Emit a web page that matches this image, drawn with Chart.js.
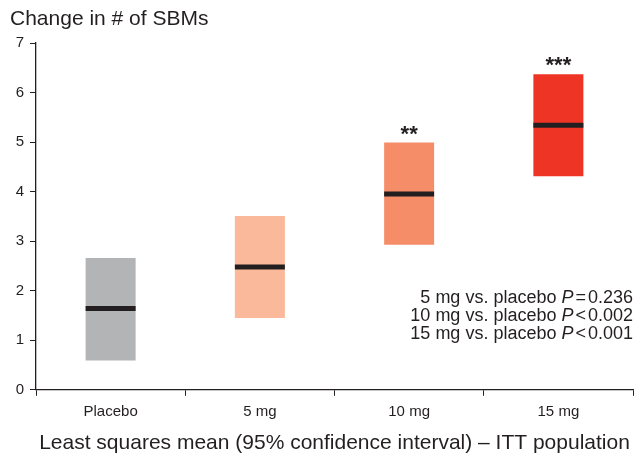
<!DOCTYPE html>
<html>
<head>
<meta charset="utf-8">
<script src="https://cdn.jsdelivr.net/npm/chart.js"></script>
<style>
  body { margin: 0; background: #fff; }
  #wrap { width: 640px; height: 456px; }
</style>
</head>
<body>
<div id="wrap"><canvas id="chart"></canvas></div>
<script>
const groups = ["Placebo", "5 mg", "10 mg", "15 mg"];
const ciLow = [0.59, 1.45, 2.93, 4.31];
const ciHigh = [2.66, 3.51, 4.99, 6.37];
const means = [1.64, 2.48, 3.95, 5.34];
const stars = ["", "", "**", "***"];
const barColors = ["#b3b4b6", "#f9b99a", "#f58d68", "#ee3424"];
const pLabels = ["5 mg vs. placebo ", "10 mg vs. placebo ", "15 mg vs. placebo "];
const pSigns = ["=", "<", "<"];
const pValues = ["0.236", "0.002", "0.001"];

const FONT = "'Liberation Sans', Arial, Helvetica, sans-serif";
const INK = "#231f20";

// title, significance stars and the p-value block
const extras = {
  id: "extras",
  afterDatasetsDraw(chart) {
    const ctx = chart.ctx;
    const area = chart.chartArea;
    ctx.save();
    ctx.fillStyle = INK;

    ctx.font = "21px " + FONT;
    ctx.textAlign = "left";
    ctx.textBaseline = "middle";
    ctx.fillText("Change in # of SBMs", 10, 19);

    const bars = chart.getDatasetMeta(0).data;
    ctx.font = "bold 22px " + FONT;
    ctx.textAlign = "center";
    ctx.textBaseline = "alphabetic";
    bars.forEach((bar, i) => {
      if (stars[i]) ctx.fillText(stars[i], bar.x, bar.y - 2);
    });

    ctx.textAlign = "right";
    ctx.textBaseline = "middle";
    const right = area.right;
    pLabels.forEach((lab, i) => {
      const y = 298 + i * 18;
      let x = right;
      ctx.font = "18px " + FONT;
      ctx.fillText(pValues[i], x, y);
      x -= ctx.measureText(pValues[i]).width + 2;
      ctx.fillText(pSigns[i], x, y);
      x -= ctx.measureText(pSigns[i]).width + 2;
      ctx.font = "italic 18px " + FONT;
      ctx.fillText("P", x, y);
      x -= ctx.measureText("P").width;
      ctx.font = "18px " + FONT;
      ctx.fillText(lab, x, y);
    });
    ctx.restore();
  }
};

new Chart(document.getElementById("chart"), {
  type: "bar",
  data: {
    labels: groups,
    datasets: [
      {
        label: "95% CI",
        data: groups.map((g, i) => [ciLow[i], ciHigh[i]]),
        backgroundColor: barColors,
        borderWidth: 0,
        categoryPercentage: 1,
        barPercentage: 0.335,
        order: 2
      },
      {
        type: "line",
        label: "LS mean",
        data: means,
        showLine: false,
        pointStyle: "line",
        pointRadius: 25,
        pointHoverRadius: 25,
        pointBorderWidth: 5,
        pointBorderColor: INK,
        pointBackgroundColor: INK,
        order: 1
      }
    ]
  },
  options: {
    responsive: true,
    maintainAspectRatio: false,
    animation: false,
    events: [],
    layout: { autoPadding: false, padding: { top: 43, right: 7, left: 0, bottom: 0 } },
    plugins: {
      legend: { display: false },
      tooltip: { enabled: false }
    },
    scales: {
      x: {
        offset: true,
        grid: {
          offset: true,
          drawOnChartArea: false,
          tickLength: 6,
          color: INK
        },
        border: { color: INK, width: 1.3 },
        ticks: {
          color: INK,
          padding: 7,
          font: { family: FONT, size: 15 }
        },
        title: {
          display: true,
          text: "Least squares mean (95% confidence interval) \u2013 ITT population",
          color: INK,
          font: { family: FONT, size: 21 },
          padding: { top: 3, bottom: 0 }
        }
      },
      y: {
        min: 0,
        max: 7,
        ticks: {
          stepSize: 1,
          color: INK,
          padding: 6,
          font: { family: FONT, size: 15 }
        },
        grid: {
          drawOnChartArea: false,
          tickLength: 6,
          color: INK
        },
        border: { color: INK, width: 1.3 },
        afterFit(scale) { scale.width = 36; }
      }
    }
  },
  plugins: [extras]
});
</script>
</body>
</html>
